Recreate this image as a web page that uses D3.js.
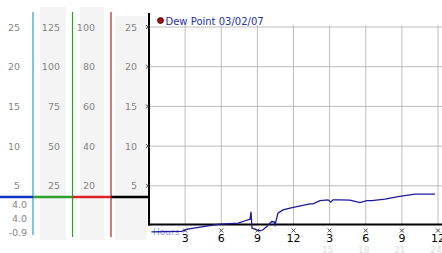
<!DOCTYPE html>
<html>
<head>
<meta charset="utf-8">
<script src="https://cdn.jsdelivr.net/npm/d3@7"></script>
<style>
  body { margin: 0; background: #fff; }
  svg { display: block; font-family: "DejaVu Sans", Verdana, sans-serif; }
</style>
</head>
<body>
<div id="vis"></div>
<script>
// hours since midnight and dew point readings
const hours = [0.2, 2.7, 3.2, 5.7, 7.4, 8.06, 8.39, 8.47, 8.55, 8.95, 9.22, 9.47, 9.78, 10.19, 10.4, 10.47, 10.71,
  11.13, 11.71, 12.27, 13.37, 13.62, 14.2, 14.87, 15.09, 15.28, 15.86, 16.69, 17.52, 18.08, 18.5, 19.6, 20.68, 22.09, 23.75];
const dewPoint = [-0.8, -0.75, -0.45, 0.13, 0.3, 0.63, 0.8, 1.72, -0.33, -0.54, -0.67, -0.54, -0.13, 0.5, 0.45, 0.09, 1.56,
  1.97, 2.19, 2.39, 2.73, 2.73, 3.14, 3.23, 2.94, 3.23, 3.23, 3.19, 2.89, 3.14, 3.14, 3.32, 3.65, 3.95, 3.95];

// left hand scale columns
const col1Labels = [25, 20, 15, 10, 5];
const col2Labels = [125, 100, 75, 50, 25];
const col3Labels = [100, 80, 60, 40, 20];
const col4Labels = [25, 20, 15, 10, 5];
const summaryLabels = ['4.0', '4.0', '-0.9'];
const markerLevel = 3.6;

// bottom axis
const xTicks = [3, 6, 9, 12, 15, 18, 21, 24];
const xTickLabels = ['3', '6', '9', '12', '3', '6', '9', '12'];
const x24Ticks = [15, 18, 21, 24];
const gridValues = [5, 10, 15, 20, 25];
const legendText = 'Dew Point 03/02/07';

const W = 442, H = 253;
const svg = d3.select('#vis').append('svg').attr('width', W).attr('height', H);

const x = d3.scaleLinear().domain([0, 24]).range([149, 438]);
const y = d3.scaleLinear().domain([0, 25]).range([225.5, 27]);
const y125 = d3.scaleLinear().domain([0, 125]).range(y.range());
const y100 = d3.scaleLinear().domain([0, 100]).range(y.range());

// grey bands behind scale columns
const bands = [[40, 66, 7], [80, 104, 7], [115, 147, 16]];
svg.selectAll('.band').data(bands).enter().append('rect')
  .attr('x', d => d[0]).attr('y', d => d[2])
  .attr('width', d => d[1] - d[0]).attr('height', d => 240 - d[2])
  .attr('fill', '#f4f4f4');

// scale column labels
function column(scale, labels, xr) {
  const g = svg.append('g')
    .attr('transform', `translate(${xr + 1},0)`)
    .call(d3.axisLeft(scale).tickValues(labels).tickSize(0).tickPadding(1));
  g.select('.domain').remove();
  g.selectAll('text').attr('fill', '#858585').style('font-size', '9.5px')
    .style('font-family', '"DejaVu Sans", Verdana, sans-serif');
}
column(y, col1Labels, 20);
column(y125, col2Labels, 60);
column(y100, col3Labels, 95);
column(y, col4Labels, 137);

// summary values under the first column
svg.selectAll('.summary').data(summaryLabels).enter().append('text')
  .attr('x', 27).attr('y', (d, i) => 204.5 + i * 14).attr('dy', '0.35em')
  .attr('text-anchor', 'end').attr('fill', '#858585').style('font-size', '9.5px')
  .text(d => d);

// coloured separators
const seps = [[33, '#2a9fd0', 235], [72.5, '#2ca02c', 237], [111, '#b22222', 237]];
svg.selectAll('.sep').data(seps).enter().append('line')
  .attr('x1', d => d[0]).attr('x2', d => d[0]).attr('y1', 12).attr('y2', d => d[2])
  .attr('stroke', d => d[1]).attr('stroke-width', 1.2);

const segs = [[0, 33, '#1133cc'], [33, 72.5, '#2ca02c'], [72.5, 111, '#dd2222'], [111, 149, '#000']];
svg.selectAll('.seg').data(segs).enter().append('line')
  .attr('x1', d => d[0]).attr('x2', d => d[1])
  .attr('y1', y(markerLevel)).attr('y2', y(markerLevel))
  .attr('stroke', d => d[2]).attr('stroke-width', 2.5);

// grid
svg.selectAll('.hgrid').data(gridValues).enter().append('line')
  .attr('x1', 149).attr('x2', W).attr('y1', d => y(d)).attr('y2', d => y(d))
  .attr('stroke', '#bdbdbd').attr('stroke-width', 1);
svg.selectAll('.vgrid').data(xTicks).enter().append('line')
  .attr('x1', d => x(d)).attr('x2', d => x(d)).attr('y1', 25).attr('y2', 225)
  .attr('stroke', '#bdbdbd').attr('stroke-width', 1);

// axes lines
svg.append('line').attr('x1', 149).attr('x2', 149).attr('y1', 13).attr('y2', 225.5)
  .attr('stroke', '#000').attr('stroke-width', 2);
svg.append('line').attr('x1', 148).attr('x2', W).attr('y1', y(0) - 1).attr('y2', y(0) - 1)
  .attr('stroke', '#000').attr('stroke-width', 2);

// little cross tick marks
function cross(cx, cy) {
  svg.append('path')
    .attr('d', `M${cx - 2},${cy - 2}L${cx + 2},${cy + 2}M${cx + 2},${cy - 2}L${cx - 2},${cy + 2}`)
    .attr('stroke', '#333').attr('stroke-width', 0.9).attr('fill', 'none');
}
gridValues.forEach(v => cross(148, y(v)));
xTicks.forEach(t => cross(x(t), 230.5));

// "Hours" caption
svg.append('text').attr('x', 153).attr('y', 234.5)
  .attr('fill', '#8fa0e0').style('font-size', '9px').text('Hours');

// x tick labels
svg.selectAll('.xl').data(xTicks).enter().append('text')
  .attr('x', d => x(d)).attr('y', 241.5).attr('text-anchor', 'middle')
  .attr('fill', '#000').style('font-size', '11px')
  .text((d, i) => xTickLabels[i]);
svg.selectAll('.xl24').data(x24Ticks).enter().append('text')
  .attr('x', d => x(d) - 2).attr('y', 252.5).attr('text-anchor', 'middle')
  .attr('fill', '#dcdcdc').style('font-size', '9px')
  .text(d => d);

// dew point line
const line = d3.line().x(d => x(d[0])).y(d => y(d[1]));
svg.append('path').datum(hours.map((h, i) => [h, dewPoint[i]]))
  .attr('d', line).attr('fill', 'none')
  .attr('stroke', '#1a1a9a').attr('stroke-width', 1.3);

// legend
svg.append('circle').attr('cx', 160.5).attr('cy', 20.5).attr('r', 3)
  .attr('fill', '#a01010').attr('stroke', '#400').attr('stroke-width', 0.8);
svg.append('text').attr('x', 165.5).attr('y', 24.5)
  .attr('fill', '#2233aa').style('font-size', '10px').text(legendText);
</script>
</body>
</html>
